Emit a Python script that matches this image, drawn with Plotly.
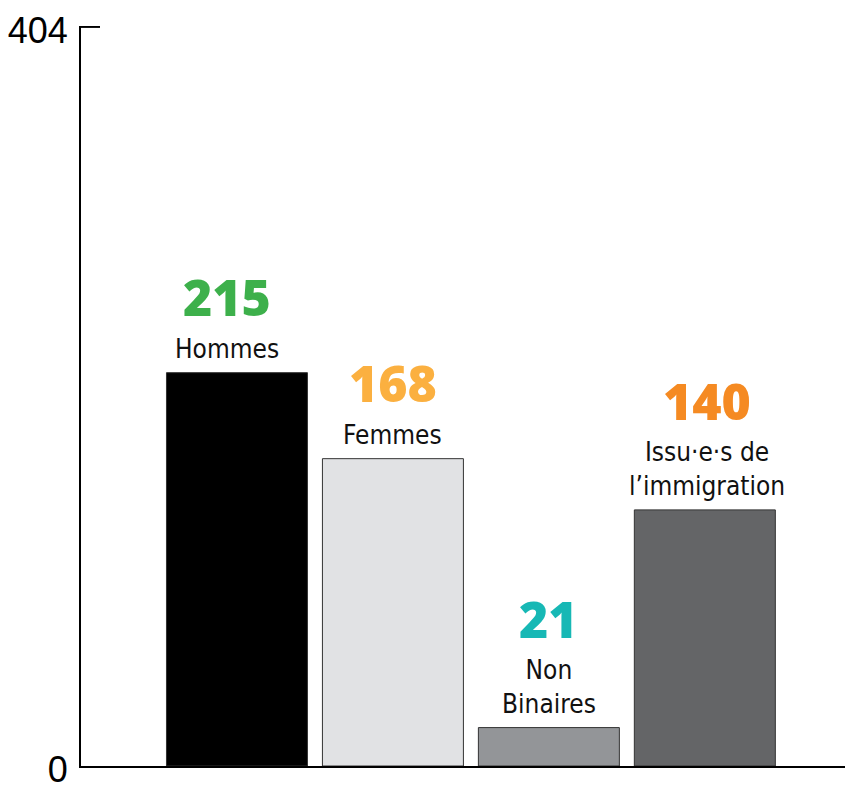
import plotly.graph_objects as go

categories = ["Hommes", "Femmes", "Non Binaires", "Issu·e·s de l’immigration"]
labels = ["Hommes", "Femmes", "Non<br>Binaires", "Issu·e·s de<br>l’immigration"]
values = [215, 168, 21, 140]
bar_colors = ["#000000", "#e1e2e4", "#939598", "#646567"]
number_colors = ["#3db04b", "#fbb040", "#17b8b5", "#f58a22"]
y_max = 404
y_ticks = [0, 404]
label_xshift = [-10, 0, 0, 2]

fig = go.Figure()
fig.add_trace(go.Bar(
    x=categories, y=values,
    marker=dict(color=bar_colors, line=dict(color="#333333", width=1)),
    width=0.904, hoverinfo="skip",
))

label_font = dict(family="DejaVu Sans Condensed, sans-serif", size=26, color="#111111")
num_font = dict(family="Open Sans, sans-serif", size=50, weight=800)

for i, (c, lab, v) in enumerate(zip(categories, labels, values)):
    n = lab.count("<br>") + 1
    fig.add_annotation(x=c, y=v, text=lab, showarrow=False, yanchor="bottom",
                       xanchor="center", yshift=7, xshift=label_xshift[i],
                       font=label_font, align="center")
    fig.add_annotation(x=c, y=v, text=str(v), showarrow=False, yanchor="bottom",
                       xanchor="center", yshift=40 + (n - 1) * 33, xshift=label_xshift[i],
                       font=dict(num_font, color=number_colors[i]))

# inward tick mark at the top value of the axis
fig.add_shape(type="line", xref="paper", yref="y", x0=0, x1=19 / 772,
              y0=y_ticks[-1], y1=y_ticks[-1], line=dict(color="black", width=2))

fig.update_layout(
    width=845, height=778,
    margin=dict(l=73, r=0, t=18, b=20, autoexpand=False),
    paper_bgcolor="white", plot_bgcolor="white",
    showlegend=False,
    xaxis=dict(range=[-1, 3.95], showticklabels=False, ticks="", showgrid=False,
               zeroline=False, showline=True, linecolor="black", linewidth=2,
               automargin=False),
    yaxis=dict(range=[0, y_max + 0.5], tickvals=y_ticks, ticktext=[str(t) for t in y_ticks],
               ticks="inside", ticklen=19, tickwidth=2, tickcolor="black",
               showgrid=False, zeroline=False, showline=True, linecolor="black", linewidth=2,
               tickfont=dict(family="Liberation Sans, Arial, sans-serif", size=36, color="black"),
               ticklabelstandoff=4, ticklabelshift=3, automargin=False,
               ticklabeloverflow="allow"),
)

fig.write_html("out.html")
